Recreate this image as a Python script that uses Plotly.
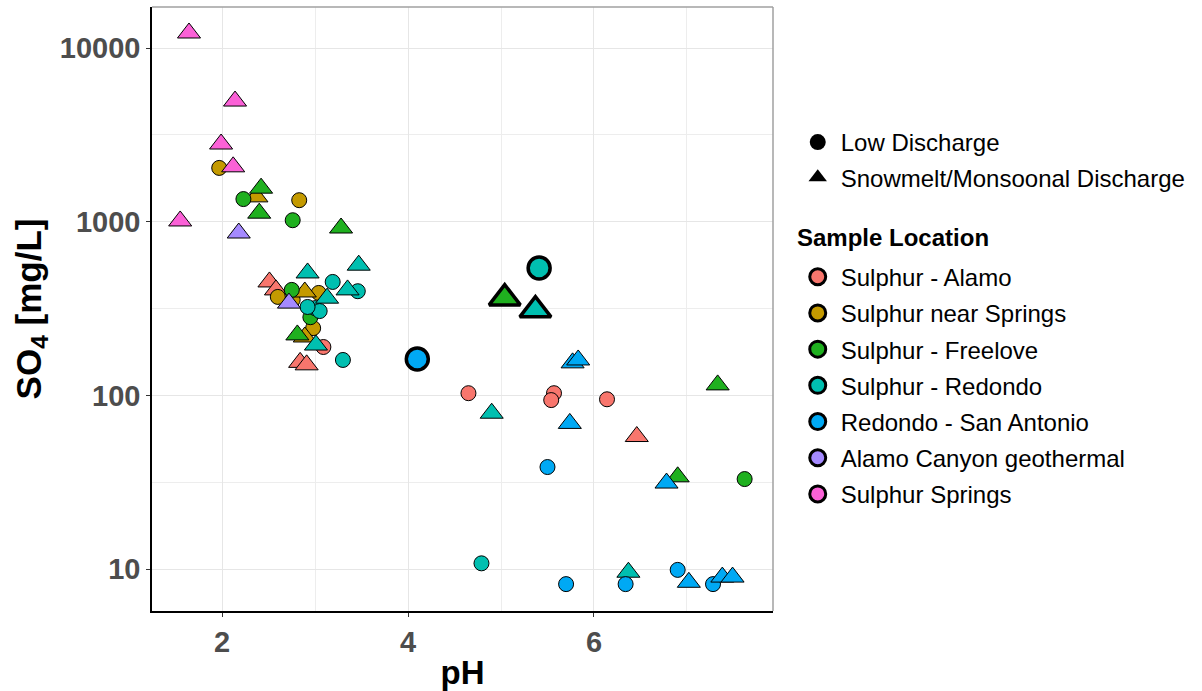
import plotly.graph_objects as go

locations = ["Sulphur - Alamo", "Sulphur near Springs", "Sulphur - Freelove",
             "Sulphur - Redondo", "Redondo - San Antonio",
             "Alamo Canyon geothermal", "Sulphur Springs"]
colors = ["#F8766D", "#C49A00", "#1FB01F", "#00BFB0", "#00A9F4", "#A58AFF", "#FB61D7"]

# Each sample: location index, pH, SO4 (mg/L), discharge ('L' low, 'H' snowmelt/monsoonal), highlighted
loc = [6, 6, 6, 6, 6,
       1, 1, 1, 1, 1, 1, 1, 1, 1,
       2, 2, 2, 2, 2, 2, 2, 2, 2, 2, 2, 2,
       3, 3, 3, 3, 3, 3, 3, 3, 3, 3, 3, 3, 3, 3, 3, 3,
       4, 4, 4, 4, 4, 4, 4, 4, 4, 4, 4, 4, 4,
       0, 0, 0, 0, 0, 0, 0, 0, 0, 0,
       5, 5]
ph = [1.645, 2.14, 1.99, 2.12, 1.55,
      1.97, 2.37, 2.83, 2.60, 2.76, 2.89, 3.04, 2.98, 2.89,
      2.23, 2.42, 2.40, 2.76, 3.28, 2.75, 2.95, 2.81, 7.33, 6.90, 7.62, 5.04,
      2.92, 3.19, 3.47, 3.35, 3.46, 3.13, 3.00, 3.05, 2.92, 3.01, 3.30, 4.90, 4.79, 6.37, 5.41, 5.37,
      4.10, 5.77, 5.83, 5.74, 5.50, 6.78, 5.70, 6.34, 6.90, 7.02, 7.28, 7.38, 7.49,
      2.51, 2.58, 3.09, 2.84, 2.91, 4.65, 5.57, 5.54, 6.14, 6.46,
      2.18, 2.72]
so4 = [12200, 4950, 2800, 2070, 1010,
       2040, 1390, 1330, 369, 355, 394, 389, 244, 217,
       1350, 1560, 1120, 1020, 920, 405, 282, 223, 115, 34, 33, 363,
       507, 450, 562, 405, 398, 363, 318, 306, 323, 195, 160, 79, 10.8, 9.6, 541, 310,
       162, 154, 160, 69, 38.7, 31.3, 8.2, 8.2, 9.9, 8.4, 8.2, 9.0, 9.0,
       450, 405, 190, 155, 150, 103, 103, 94, 95, 58,
       861, 340]
discharge = ["H", "H", "H", "H", "H",
             "L", "H", "L", "L", "L", "H", "L", "L", "H",
             "L", "H", "H", "L", "H", "L", "L", "H", "H", "H", "L", "H",
             "H", "L", "H", "H", "L", "H", "L", "L", "L", "H", "L", "H", "L", "H", "L", "H",
             "L", "H", "H", "H", "L", "H", "L", "L", "L", "H", "L", "H", "H",
             "H", "H", "L", "H", "H", "L", "L", "L", "L", "H",
             "H", "H"]
highlight = [0, 0, 0, 0, 0,
             0, 0, 0, 0, 0, 0, 0, 0, 0,
             0, 0, 0, 0, 0, 0, 0, 0, 0, 0, 0, 1,
             0, 0, 0, 0, 0, 0, 0, 0, 0, 0, 0, 0, 0, 0, 1, 1,
             1, 0, 0, 0, 0, 0, 0, 0, 0, 0, 0, 0, 0,
             0, 0, 0, 0, 0, 0, 0, 0, 0, 0,
             0, 0]

discharge_names = ["Low Discharge", "Snowmelt/Monsoonal Discharge"]
x_ticks = [2, 4, 6]
y_ticks = [10, 100, 1000, 10000]
y_minor = [10 ** 0.5 * v for v in [1, 10, 100, 1000]]
x_minor = [1, 3, 5, 7]

FONT = "Liberation Sans, Arial, sans-serif"

fig = go.Figure()

for li, name in enumerate(locations):
    for d, sym in (("L", "circle"), ("H", "triangle-up")):
        for hl in (0, 1):
            idx = [i for i in range(len(ph)) if loc[i] == li and discharge[i] == d and highlight[i] == hl]
            if not idx:
                continue
            if hl:
                size = 22 if sym == "circle" else 27
                lw = 3.5
            else:
                size = 15 if sym == "circle" else 20
                lw = 1
            fig.add_trace(go.Scatter(
                x=[ph[i] for i in idx], y=[so4[i] for i in idx], mode="markers",
                showlegend=False, hoverinfo="x+y",
                marker=dict(symbol=sym, size=size, color=colors[li],
                            line=dict(color="black", width=lw))))

# shape legend
for nm, sym in zip(discharge_names, ("circle", "triangle-up")):
    fig.add_trace(go.Scatter(
        x=[None], y=[None], mode="markers", name=nm, legend="legend", legendgroup=nm,
        marker=dict(symbol=sym, size=24, color="black", line=dict(color="black", width=0))))

# location legend
for li, name in enumerate(locations):
    fig.add_trace(go.Scatter(
        x=[None], y=[None], mode="markers", name=name, legend="legend2",
        legendgroup=name,
        marker=dict(symbol="circle", size=18, color=colors[li], line=dict(color="black", width=3))))

legend_font = dict(size=24, family=FONT, color="black")
fig.update_layout(
    width=1202, height=691,
    margin=dict(l=152, r=429, t=7, b=80),
    paper_bgcolor="white", plot_bgcolor="white",
    font=dict(family=FONT, color="black"),
    legend=dict(x=1.035, y=0.813, xanchor="left", yanchor="top",
                font=legend_font, itemwidth=36,
                itemsizing="trace", traceorder="grouped", tracegroupgap=1,
                bgcolor="rgba(0,0,0,0)"),
    legend2=dict(x=1.035, y=0.59, xanchor="left", yanchor="top",
                 font=legend_font, itemwidth=36,
                 itemsizing="trace", traceorder="grouped", tracegroupgap=2,
                 bgcolor="rgba(0,0,0,0)"),
    annotations=[dict(text="<b>Sample Location</b>", xref="paper", yref="paper",
                      x=1.035, y=0.618, xanchor="left", yanchor="middle", showarrow=False,
                      font=legend_font)],
)

fig.update_xaxes(
    range=[1.247, 7.925], tickvals=x_ticks, ticktext=[str(v) for v in x_ticks],
    showgrid=True, gridcolor="#E6E6E6", gridwidth=1,
    minor=dict(tickvals=x_minor, showgrid=True, gridcolor="#EDEDED", gridwidth=1),
    showline=True, linecolor="black", linewidth=1.5, mirror=False,
    ticks="outside", ticklen=4, tickcolor="#333333",
    tickfont=dict(size=29, family=FONT, color="#4D4D4D", weight="bold"),
    title=dict(text="pH", font=dict(size=33, family=FONT, color="black", weight="bold"), standoff=6),
    zeroline=False, automargin=False,
)
fig.update_yaxes(
    type="log", range=[0.759, 4.236], tickvals=y_ticks, ticktext=[str(v) for v in y_ticks],
    showgrid=True, gridcolor="#E6E6E6", gridwidth=1,
    minor=dict(tickvals=y_minor, showgrid=True, gridcolor="#EDEDED", gridwidth=1),
    showline=True, linecolor="black", linewidth=1.5, mirror=False,
    ticks="outside", ticklen=4, tickcolor="#333333",
    tickfont=dict(size=29, family=FONT, color="#4D4D4D", weight="bold"),
    title=dict(text="SO<sub>4</sub> [mg/L]", font=dict(size=35, family=FONT, color="black", weight="bold"), standoff=8),
    zeroline=False, automargin=False,
)

# gray top/right panel border
fig.add_shape(type="line", xref="paper", yref="paper", x0=0, x1=1, y0=1, y1=1,
              line=dict(color="#A0A0A0", width=1.5))
fig.add_shape(type="line", xref="paper", yref="paper", x0=1, x1=1, y0=0, y1=1,
              line=dict(color="#A0A0A0", width=1.5))

fig.write_html("out.html")
